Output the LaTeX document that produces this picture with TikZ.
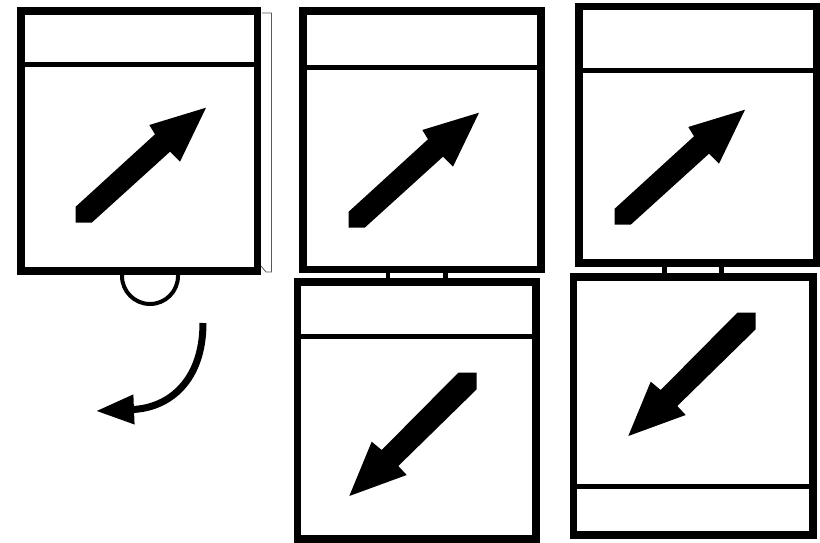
\documentclass[tikz,border=0pt]{standalone}
\usetikzlibrary{arrows.meta}
\begin{document}
\begin{tikzpicture}[x=1pt,y=-1pt,
  panel/.style={draw=black,line width=7.5pt,inner sep=0pt,outer sep=0pt,fill=white},
  bar/.style={line width=5pt},
  stub/.style={line width=4.5pt},
  bigarrow/.style={fill=black,draw=none}]
\useasboundingbox (0,0) rectangle (820,543);
% thin offset line behind first panel
\draw[gray!70!black,line width=0.8pt] (262,13) -- (271.5,13) -- (271.5,272) -- (266,272) -- (261,266);
% loop under first panel
\coordinate (ls) at (122,272);
\draw[line width=4pt] (ls) -- (122,276) arc[start angle=180,end angle=0,radius=28] -- (178,272);
% panels
\node[panel,minimum width=236.5pt,minimum height=260pt] (b1) at (139.25,141) {};
\node[panel,minimum width=238pt,minimum height=258.5pt] (b2) at (422,140.25) {};
\node[panel,minimum width=238pt,minimum height=256.5pt] (b3) at (698,134.75) {};
\node[panel,minimum width=238.5pt,minimum height=257pt] (b4) at (416.75,410.5) {};
\node[panel,minimum width=239.5pt,minimum height=258pt] (b5) at (693.25,406) {};
% header / footer lines
\draw[bar] (b1.west |- 0,65) -- (b1.east |- 0,65);
\draw[bar] (b2.west |- 0,68) -- (b2.east |- 0,68);
\draw[bar] (b3.west |- 0,70.5) -- (b3.east |- 0,70.5);
\draw[bar] (b4.west |- 0,336) -- (b4.east |- 0,336);
\draw[bar] (b5.west |- 0,486) -- (b5.east |- 0,486);
% stubs between panels
\draw[stub] (b2.south -| 388,0) -- (b4.north -| 388,0);
\draw[stub] (b2.south -| 445.5,0) -- (b4.north -| 445.5,0);
\draw[stub] (b3.south -| 664.5,0) -- (b5.north -| 664.5,0);
\draw[stub] (b3.south -| 721.5,0) -- (b5.north -| 721.5,0);
% curved arrow
\coordinate (cs) at (203,323);
\coordinate (ce) at (96,411);
\draw[line width=7pt,-{Triangle[length=38pt,width=28pt]}] (cs) .. controls (203,380) and (170,408) .. (ce);
% up-right arrows
\foreach \dx/\dy in {0/0,273/5,539/2}{
  \fill[bigarrow,shift={(\dx,\dy)}] (75.7,206.7) -- (155,134.3) -- (149.3,125) -- (206,107.7) -- (180,161.7) -- (170,151.7) -- (91.7,222.7) -- (75.7,222.7) -- cycle;
}
% down-left arrows
\foreach \dx/\dy in {0/0,279/-60}{
  \fill[bigarrow,shift={(\dx,\dy)}] (349.3,496) -- (371.7,441.7) -- (381.7,450) -- (458.3,372.7) -- (476.7,372.7) -- (476.7,389.3) -- (398.3,466) -- (406.7,475) -- cycle;
}
\end{tikzpicture}
\end{document}
